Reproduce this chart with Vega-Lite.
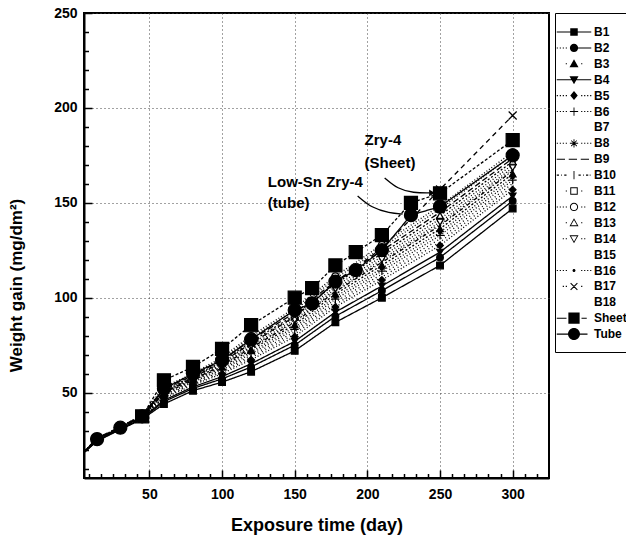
{
  "$schema": "https://vega.github.io/schema/vega-lite/v6.json",
  "width": 465,
  "height": 465,
  "autosize": {"type": "none"},
  "padding": {"left": 84, "top": 13, "right": 77, "bottom": 61},
  "background": "white",
  "config": {
    "font": "Liberation Sans",
    "view": {"stroke": "black", "strokeWidth": 2},
    "axis": {
      "domainColor": "black", "domainWidth": 2,
      "tickColor": "black", "tickWidth": 1.5,
      "labelColor": "black", "labelFont": "Liberation Sans", "labelFontSize": 14, "labelFontWeight": "bold",
      "titleFont": "Liberation Sans", "titleFontSize": 18, "titleFontWeight": "bold", "titleColor": "black",
      "grid": true, "gridColor": "#444", "gridDash": [1, 3], "gridWidth": 1,
      "labelOverlap": false, "tickCount": 100
    }
  },
  "datasets": {
    "gain": [
      {"day": 0, "B1": 15, "B2": 15, "B3": 15, "B4": 15, "B5": 15, "B6": 15, "B7": 15, "B8": 15, "B9": 15, "B10": 15, "B11": 15, "B12": 15, "B13": 15, "B14": 15, "B15": 15, "B16": 15, "B17": 15, "B18": 15, "Sheet": null, "Tube": 15},
      {"day": 14, "B1": 24.5, "B2": 24.7, "B3": 25.3, "B4": 24.8, "B5": 25, "B6": 25.2, "B7": 25.4, "B8": 25.6, "B9": 25.7, "B10": 25.4, "B11": 25.8, "B12": 25.9, "B13": 25.6, "B14": 25.5, "B15": 25.1, "B16": 25.3, "B17": 26, "B18": 25, "Sheet": null, "Tube": 25.5},
      {"day": 30, "B1": 30.5, "B2": 30.7, "B3": 31.3, "B4": 30.8, "B5": 31, "B6": 31.2, "B7": 31.4, "B8": 31.6, "B9": 31.7, "B10": 31.4, "B11": 31.8, "B12": 31.9, "B13": 31.6, "B14": 31.5, "B15": 31.1, "B16": 31.3, "B17": 32, "B18": 31, "Sheet": null, "Tube": 31.5},
      {"day": 45, "B1": 36, "B2": 36.3, "B3": 37.4, "B4": 36.5, "B5": 36.8, "B6": 37.1, "B7": 37.6, "B8": 37.8, "B9": 38, "B10": 37.5, "B11": 38.1, "B12": 38.3, "B13": 37.9, "B14": 37.6, "B15": 37, "B16": 37.3, "B17": 38, "B18": 36.9, "Sheet": 37.5, "Tube": 37.5},
      {"day": 60, "B1": 44, "B2": 45.2, "B3": 49.5, "B4": 46, "B5": 47, "B6": 48.5, "B7": 50.2, "B8": 51, "B9": 52, "B10": 50, "B11": 52.5, "B12": 53, "B13": 51.5, "B14": 50.5, "B15": 48, "B16": 49, "B17": 50, "B18": 47.5, "Sheet": 56.5, "Tube": 52},
      {"day": 80, "B1": 51, "B2": 52.2, "B3": 56.5, "B4": 53, "B5": 54, "B6": 55.5, "B7": 57.2, "B8": 58, "B9": 59, "B10": 57, "B11": 59.5, "B12": 60, "B13": 58.5, "B14": 57.5, "B15": 55, "B16": 56, "B17": 58, "B18": 54.5, "Sheet": 63.5, "Tube": 60},
      {"day": 100, "B1": 55.5, "B2": 57.2, "B3": 63.5, "B4": 58.4, "B5": 59.9, "B6": 62, "B7": 64.5, "B8": 65.7, "B9": 67.1, "B10": 64.2, "B11": 67.8, "B12": 68.6, "B13": 66.4, "B14": 64.9, "B15": 61.3, "B16": 62.8, "B17": 66, "B18": 60.6, "Sheet": 73, "Tube": 67},
      {"day": 120, "B1": 61, "B2": 63.5, "B3": 72.6, "B4": 65.2, "B5": 67.3, "B6": 70.5, "B7": 74, "B8": 75.7, "B9": 77.8, "B10": 73.6, "B11": 78.9, "B12": 79.9, "B13": 76.8, "B14": 74.7, "B15": 69.4, "B16": 71.5, "B17": 76, "B18": 68.4, "Sheet": 85.5, "Tube": 78},
      {"day": 150, "B1": 72, "B2": 75, "B3": 85.8, "B4": 77, "B5": 79.5, "B6": 83.3, "B7": 87.5, "B8": 89.5, "B9": 92, "B10": 87, "B11": 93.3, "B12": 94.5, "B13": 90.8, "B14": 88.3, "B15": 82, "B16": 84.5, "B17": 90, "B18": 80.8, "Sheet": 100, "Tube": 93.5},
      {"day": 162, "B1": null, "B2": null, "B3": null, "B4": null, "B5": null, "B6": null, "B7": null, "B8": null, "B9": null, "B10": null, "B11": null, "B12": null, "B13": null, "B14": null, "B15": null, "B16": null, "B17": null, "B18": null, "Sheet": 105, "Tube": 97},
      {"day": 178, "B1": 87, "B2": 90.2, "B3": 101.9, "B4": 92.4, "B5": 95.1, "B6": 99.2, "B7": 103.7, "B8": 105.9, "B9": 108.6, "B10": 103.2, "B11": 110, "B12": 111.3, "B13": 107.3, "B14": 104.6, "B15": 97.8, "B16": 100.5, "B17": 108, "B18": 96.5, "Sheet": 117, "Tube": 108.5},
      {"day": 192, "B1": null, "B2": null, "B3": null, "B4": null, "B5": null, "B6": null, "B7": null, "B8": null, "B9": null, "B10": null, "B11": null, "B12": null, "B13": null, "B14": null, "B15": null, "B16": null, "B17": null, "B18": null, "Sheet": 124, "Tube": 114.5},
      {"day": 210, "B1": 100, "B2": 103.7, "B3": 117.1, "B4": 106.2, "B5": 109.3, "B6": 114, "B7": 119.2, "B8": 121.7, "B9": 124.8, "B10": 118.6, "B11": 126.4, "B12": 127.9, "B13": 123.3, "B14": 120.2, "B15": 112.4, "B16": 115.5, "B17": 126, "B18": 110.9, "Sheet": 133, "Tube": 125},
      {"day": 230, "B1": null, "B2": null, "B3": null, "B4": null, "B5": null, "B6": null, "B7": null, "B8": null, "B9": null, "B10": null, "B11": null, "B12": null, "B13": null, "B14": null, "B15": null, "B16": null, "B17": null, "B18": null, "Sheet": 150, "Tube": 143.5},
      {"day": 250, "B1": 117, "B2": 121.2, "B3": 136.3, "B4": 124, "B5": 127.5, "B6": 132.8, "B7": 138.7, "B8": 141.5, "B9": 145, "B10": 138, "B11": 146.8, "B12": 148.5, "B13": 143.3, "B14": 139.8, "B15": 131, "B16": 134.5, "B17": 157, "B18": 129.3, "Sheet": 155, "Tube": 148},
      {"day": 300, "B1": 147, "B2": 151, "B3": 165.2, "B4": 153.6, "B5": 156.9, "B6": 161.9, "B7": 167.5, "B8": 170.1, "B9": 173.4, "B10": 166.8, "B11": 175.1, "B12": 176.7, "B13": 171.8, "B14": 168.5, "B15": 160.2, "B16": 163.5, "B17": 196, "B18": 158.6, "Sheet": 183, "Tube": 175}
    ],
    "arrows": [
      {"arrow": "sheet", "day": 211.9, "gain": 163.1},
      {"arrow": "sheet", "day": 220.8, "gain": 157.3},
      {"arrow": "sheet", "day": 231.8, "gain": 155.2},
      {"arrow": "sheet", "day": 242.8, "gain": 155.2},
      {"arrow": "tube", "day": 193.3, "gain": 153.6},
      {"arrow": "tube", "day": 202.9, "gain": 147.3},
      {"arrow": "tube", "day": 215.3, "gain": 144.6},
      {"arrow": "tube", "day": 224.2, "gain": 144.1}
    ]
  },
  "layer": [
    {
      "data": {"name": "gain"},
      "transform": [
        {"fold": ["B1", "B2", "B3", "B4", "B5", "B6", "B7", "B8", "B9", "B10", "B11", "B12", "B13", "B14", "B15", "B16", "B17", "B18", "Sheet", "Tube"], "as": ["series", "gain"]},
        {"filter": "datum.gain != null"}
      ],
      "mark": {"type": "line", "color": "black", "strokeWidth": 1.3, "clip": true},
      "encoding": {
        "x": {
          "field": "day", "type": "quantitative",
          "scale": {"domain": [5, 325], "nice": false, "zero": false},
          "axis": {
            "title": "Exposure time (day)",
            "values": [8.3333, 16.6667, 25, 33.3333, 41.6667, 50, 58.3333, 66.6667, 75, 83.3333, 91.6667, 100, 108.3333, 116.6667, 125, 133.3333, 141.6667, 150, 158.3333, 166.6667, 175, 183.3333, 191.6667, 200, 208.3333, 216.6667, 225, 233.3333, 241.6667, 250, 258.3333, 266.6667, 275, 283.3333, 291.6667, 300, 308.3333, 316.6667],
            "labelExpr": "abs(datum.value - 50*round(datum.value/50)) < 0.01 ? format(datum.value, 'd') : ''",
            "tickSize": {"condition": {"test": "abs(datum.value - 50*round(datum.value/50)) < 0.01", "value": -8}, "value": -4.5},
            "gridOpacity": {"condition": {"test": "abs(datum.value - 50*round(datum.value/50)) < 0.01", "value": 1}, "value": 0},
            "labelPadding": 17,
            "titlePadding": 12,
            "labelFlush": false
          }
        },
        "y": {
          "field": "gain", "type": "quantitative",
          "scale": {"domain": [5, 250], "nice": false, "zero": false},
          "axis": {
            "title": "Weight gain (mg/dm²)",
            "titleFontSize": 17,
            "titleY": 272,
            "values": [10, 20, 30, 40, 50, 60, 70, 80, 90, 100, 110, 120, 130, 140, 150, 160, 170, 180, 190, 200, 210, 220, 230, 240, 250],
            "labelExpr": "datum.value % 50 === 0 ? format(datum.value, 'd') : ''",
            "tickSize": {"condition": {"test": "datum.value % 50 === 0", "value": -8}, "value": -4.5},
            "gridOpacity": {"condition": {"test": "datum.value % 50 === 0", "value": 1}, "value": 0},
            "labelPadding": 15,
            "titlePadding": 28,
            "labelFlush": false
          }
        },
        "strokeDash": {
          "field": "series", "type": "nominal", "legend": null,
          "scale": {
            "domain": ["B1", "B2", "B3", "B4", "B5", "B6", "B7", "B8", "B9", "B10", "B11", "B12", "B13", "B14", "B15", "B16", "B17", "B18", "Sheet", "Tube"],
            "range": [[1, 0], [1, 0], [2, 2], [1, 0], [1, 2], [1, 2], [1, 3], [1, 2], [6, 3], [4, 2, 1, 2], [1, 2], [1, 2], [2, 2], [1, 2], [1, 3], [1, 2], [5, 4], [1, 3], [3, 2], [1, 0]]
          }
        }
      }
    },
    {
      "data": {"name": "gain"},
      "transform": [
        {"fold": ["B1", "B2", "B3", "B4", "B5", "B6", "B7", "B8", "B9", "B10", "B11", "B12", "B13", "B14", "B15", "B16", "B17", "B18", "Sheet", "Tube"], "as": ["series", "gain"]},
        {"filter": "datum.gain != null && datum.day > 0 && indexof(['B7','B9','B15','B18'], datum.series) < 0"}
      ],
      "mark": {"type": "point", "filled": true, "stroke": "black", "strokeWidth": 1.2, "opacity": 1, "clip": true},
      "encoding": {
        "x": {"field": "day", "type": "quantitative"},
        "y": {"field": "gain", "type": "quantitative"},
        "shape": {
          "field": "series", "type": "nominal", "legend": null,
          "scale": {
            "domain": ["B1", "B2", "B3", "B4", "B5", "B6", "B7", "B8", "B9", "B10", "B11", "B12", "B13", "B14", "B15", "B16", "B17", "B18", "Sheet", "Tube"],
            "range": ["square", "circle", "triangle-up", "triangle-down", "diamond", "M-1,0L1,0M0,-1L0,1", "circle", "M-1,0L1,0M0,-1L0,1M-0.7,-0.7L0.7,0.7M-0.7,0.7L0.7,-0.7", "circle", "M0,-1L0,1", "square", "circle", "triangle-up", "triangle-down", "circle", "circle", "M-1,-1L1,1M-1,1L1,-1", "circle", "square", "circle"]
          }
        },
        "fill": {
          "field": "series", "type": "nominal", "legend": null,
          "scale": {
            "domain": ["B1", "B2", "B3", "B4", "B5", "B6", "B7", "B8", "B9", "B10", "B11", "B12", "B13", "B14", "B15", "B16", "B17", "B18", "Sheet", "Tube"],
            "range": ["black", "black", "black", "black", "black", "black", "black", "black", "black", "black", "white", "white", "white", "white", "black", "black", "black", "black", "black", "black"]
          }
        },
        "size": {
          "condition": [
            {"test": "datum.series === 'Sheet' || datum.series === 'Tube'", "value": 170},
            {"test": "datum.series === 'B16'", "value": 10},
            {"test": "indexof(['B6','B8','B10','B17'], datum.series) >= 0", "value": 64}
          ],
          "value": 45
        }
      }
    },
    {
      "data": {"name": "gain"},
      "transform": [
        {"fold": ["B1", "B2", "B3", "B4", "B5", "B6", "B7", "B8", "B9", "B10", "B11", "B12", "B13", "B14", "B15", "B16", "B17", "B18", "Sheet", "Tube"], "as": ["series", "gain"]},
        {"filter": "false"}
      ],
      "mark": {"type": "point", "filled": true, "color": "black", "opacity": 1, "strokeWidth": 0},
      "encoding": {
        "shape": {
          "field": "series", "type": "nominal",
          "scale": {
            "domain": ["B1", "B2", "B3", "B4", "B5", "B6", "B7", "B8", "B9", "B10", "B11", "B12", "B13", "B14", "B15", "B16", "B17", "B18", "Sheet", "Tube"],
            "range": [
              "M-2.3,-0.07H2.3V0.07H-2.3ZM-0.5,-0.5H0.5V0.5H-0.5Z",
              "M-2.3,-0.07h0.16v0.14h-0.16zM-1.9,-0.07h0.16v0.14h-0.16zM-1.5,-0.07h0.16v0.14h-0.16zM-1.1,-0.07h0.16v0.14h-0.16zM0,-0.07H2.3V0.07H0ZM-0.55,0A0.55,0.55 0 1,1 0.55,0A0.55,0.55 0 1,1 -0.55,0Z",
              "M-1.1,-0.07h0.16v0.14h-0.16zM0,-0.6L0.6,0.45H-0.6ZM0.95,-0.07h0.16v0.14h-0.16z",
              "M-2.3,-0.07H2.3V0.07H-2.3ZM-0.6,-0.45H0.6L0,0.6Z",
              "M-2.3,-0.07h0.16v0.14h-0.16zM-1.9,-0.07h0.16v0.14h-0.16zM-1.5,-0.07h0.16v0.14h-0.16zM-1.1,-0.07h0.16v0.14h-0.16zM0,-0.6L0.5,0L0,0.6L-0.5,0ZM0.95,-0.07h0.16v0.14h-0.16zM1.35,-0.07h0.16v0.14h-0.16zM1.75,-0.07h0.16v0.14h-0.16zM2.15,-0.07h0.16v0.14h-0.16z",
              "M-2.3,-0.07h0.16v0.14h-0.16zM-1.9,-0.07h0.16v0.14h-0.16zM-1.5,-0.07h0.16v0.14h-0.16zM-1.1,-0.07h0.16v0.14h-0.16zM-0.55,-0.06H0.55V0.06H-0.55ZM-0.06,-0.55H0.06V0.55H-0.06ZM0.95,-0.07h0.16v0.14h-0.16zM1.35,-0.07h0.16v0.14h-0.16zM1.75,-0.07h0.16v0.14h-0.16zM2.15,-0.07h0.16v0.14h-0.16z",
              "M-2.3,-0.01h0.01v0.01h-0.01z",
              "M-2.3,-0.07h0.16v0.14h-0.16zM-1.9,-0.07h0.16v0.14h-0.16zM-1.5,-0.07h0.16v0.14h-0.16zM-1.1,-0.07h0.16v0.14h-0.16zM-0.55,-0.06H0.55V0.06H-0.55ZM-0.06,-0.55H0.06V0.55H-0.06ZM-0.42,-0.34L-0.34,-0.42L0.42,0.34L0.34,0.42ZM0.34,-0.42L0.42,-0.34L-0.34,0.42L-0.42,0.34ZM0.95,-0.07h0.16v0.14h-0.16zM1.35,-0.07h0.16v0.14h-0.16zM1.75,-0.07h0.16v0.14h-0.16zM2.15,-0.07h0.16v0.14h-0.16z",
              "M-2.3,-0.07H-1.2V0.07H-2.3ZM-0.7,-0.07H0.4V0.07H-0.7ZM0.9,-0.07H2.0V0.07H0.9Z",
              "M-2.3,-0.07h0.3v0.14h-0.3zM-1.7,-0.07h0.1v0.14h-0.1zM-1.3,-0.07h0.3v0.14h-0.3zM-0.06,-0.55H0.06V0.55H-0.06ZM0.6,-0.07h0.3v0.14h-0.3zM1.2,-0.07h0.1v0.14h-0.1zM1.6,-0.07h0.3v0.14h-0.3zM2.1,-0.07h0.1v0.14h-0.1z",
              "M-1.1,-0.07h0.16v0.14h-0.16zM-0.5,-0.5H0.5V0.5H-0.5ZM-0.37,-0.37V0.37H0.37V-0.37ZM0.95,-0.07h0.16v0.14h-0.16z",
              "M-2.3,-0.07h0.16v0.14h-0.16zM-1.9,-0.07h0.16v0.14h-0.16zM-1.5,-0.07h0.16v0.14h-0.16zM-1.1,-0.07h0.16v0.14h-0.16zM-0.55,0A0.55,0.55 0 1,1 0.55,0A0.55,0.55 0 1,1 -0.55,0ZM-0.42,0A0.42,0.42 0 1,0 0.42,0A0.42,0.42 0 1,0 -0.42,0ZM0.95,-0.07h0.16v0.14h-0.16zM1.35,-0.07h0.16v0.14h-0.16z",
              "M-1.1,-0.07h0.16v0.14h-0.16zM0,-0.6L0.6,0.45H-0.6ZM0,-0.36L-0.4,0.34H0.4ZM0.95,-0.07h0.16v0.14h-0.16z",
              "M-1.5,-0.07h0.16v0.14h-0.16zM-1.1,-0.07h0.16v0.14h-0.16zM-0.6,-0.45H0.6L0,0.6ZM-0.4,-0.34L0,0.36L0.4,-0.34ZM0.95,-0.07h0.16v0.14h-0.16zM1.35,-0.07h0.16v0.14h-0.16z",
              "M-2.3,-0.01h0.01v0.01h-0.01z",
              "M-2.3,-0.07h0.16v0.14h-0.16zM-1.9,-0.07h0.16v0.14h-0.16zM-1.5,-0.07h0.16v0.14h-0.16zM-1.1,-0.07h0.16v0.14h-0.16zM-0.2,0A0.2,0.2 0 1,1 0.2,0A0.2,0.2 0 1,1 -0.2,0ZM0.95,-0.07h0.16v0.14h-0.16zM1.35,-0.07h0.16v0.14h-0.16zM1.75,-0.07h0.16v0.14h-0.16zM2.15,-0.07h0.16v0.14h-0.16z",
              "M-1.5,-0.07h0.16v0.14h-0.16zM-1.1,-0.07h0.16v0.14h-0.16zM-0.5,-0.4L-0.4,-0.5L0.5,0.4L0.4,0.5ZM0.4,-0.5L0.5,-0.4L-0.4,0.5L-0.5,0.4ZM0.95,-0.07h0.16v0.14h-0.16z",
              "M-2.3,-0.01h0.01v0.01h-0.01z",
              "M-2.3,-0.07H-1.0V0.07H-2.3ZM-0.75,-0.75H0.75V0.75H-0.75ZM1.0,-0.07H1.7V0.07H1.0Z",
              "M-2.3,-0.07H1.8V0.07H-2.3ZM-0.8,0A0.8,0.8 0 1,1 0.8,0A0.8,0.8 0 1,1 -0.8,0Z"
            ]
          },
          "legend": {
            "title": null,
            "orient": "right",
            "offset": 6,
            "padding": 11.5,
            "rowPadding": 1.9,
            "symbolSize": 225,
            "symbolStrokeWidth": 0,
            "symbolFillColor": "black",
            "symbolOpacity": 1,
            "labelFont": "Liberation Sans",
            "labelFontSize": 12,
            "labelFontWeight": "bold",
            "labelColor": "black",
            "labelOffset": 12.5,
            "labelLimit": 120,
            "strokeColor": "black"
          }
        }
      }
    },
    {
      "data": {"name": "arrows"},
      "mark": {"type": "line", "color": "black", "strokeWidth": 1.3, "interpolate": "basis"},
      "encoding": {
        "x": {"field": "day", "type": "quantitative"},
        "y": {"field": "gain", "type": "quantitative"},
        "detail": {"field": "arrow", "type": "nominal"}
      }
    },
    {
      "data": {"values": [{}]},
      "mark": {"type": "point", "shape": "triangle-right", "filled": true, "color": "black", "opacity": 1, "size": 45},
      "encoding": {
        "x": {"datum": 244.5, "type": "quantitative"},
        "y": {"datum": 155.2, "type": "quantitative"}
      }
    },
    {
      "data": {"values": [{}]},
      "mark": {"type": "text", "text": "Zry-4\n(Sheet)", "lineBreak": "\n", "lineHeight": 23, "align": "left", "baseline": "alphabetic", "font": "Liberation Sans", "fontSize": 15, "fontWeight": "bold", "color": "black"},
      "encoding": {
        "x": {"datum": 198.1, "type": "quantitative"},
        "y": {"datum": 180.5, "type": "quantitative"}
      }
    },
    {
      "data": {"values": [{}]},
      "mark": {"type": "text", "text": "Low-Sn Zry-4\n(tube)", "lineBreak": "\n", "lineHeight": 21, "align": "left", "baseline": "alphabetic", "font": "Liberation Sans", "fontSize": 15, "fontWeight": "bold", "color": "black"},
      "encoding": {
        "x": {"datum": 131.5, "type": "quantitative"},
        "y": {"datum": 158.3, "type": "quantitative"}
      }
    }
  ],
  "resolve": {"scale": {"shape": "independent"}}
}
